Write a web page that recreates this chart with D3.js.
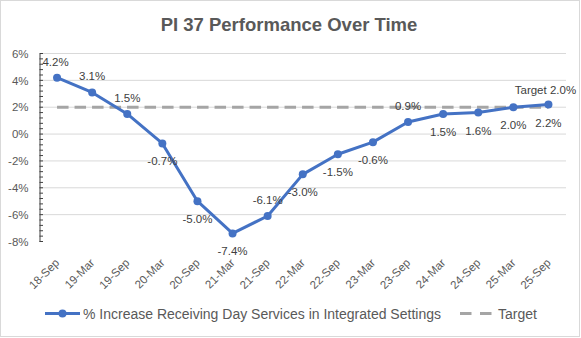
<!DOCTYPE html>
<html>
<head>
<meta charset="utf-8">
<script src="https://cdn.jsdelivr.net/npm/d3@7"></script>
<style>
  body { margin: 0; background: #fff; }
  svg { display: block; font-family: "Liberation Sans", Arial, sans-serif; }
</style>
</head>
<body>
<svg id="chart"></svg>
<script>
// half-yearly periods and the PI 37 figures (percent)
const categories = ["18-Sep", "19-Mar", "19-Sep", "20-Mar", "20-Sep", "21-Mar", "21-Sep", "22-Mar",
  "22-Sep", "23-Mar", "23-Sep", "24-Mar", "24-Sep", "25-Mar", "25-Sep"];
const increase = [4.2, 3.1, 1.5, -0.7, -5.0, -7.4, -6.1, -3.0, -1.5, -0.6, 0.9, 1.5, 1.6, 2.0, 2.2];
const target = [2, 2, 2, 2, 2, 2, 2, 2, 2, 2, 2, 2, 2, 2, 2];
const yTicks = [-8, -6, -4, -2, 0, 2, 4, 6];

// which side of the point each value label sits on
const labelSide = ["up", "up", "up", "down", "down", "down", "up", "down",
  "down", "down", "up", "down", "down", "down", "down"];

const width = 581, height = 338;
const margin = { top: 53.5, right: 15, bottom: 96.5, left: 39.5 };

const svg = d3.select("#chart").attr("width", width).attr("height", height);

svg.append("rect")
  .attr("x", 0.5).attr("y", 0.5)
  .attr("width", width - 2).attr("height", height - 2)
  .attr("fill", "#fff").attr("stroke", "#d9d9d9");

svg.append("text")
  .attr("x", 289).attr("y", 31)
  .attr("text-anchor", "middle")
  .attr("font-size", 18.5).attr("font-weight", "bold")
  .attr("fill", "#595959")
  .text("PI 37 Performance Over Time");

const x = d3.scaleBand().domain(categories)
  .range([margin.left, width - margin.right]);
const y = d3.scaleLinear().domain([-8, 6])
  .range([height - margin.bottom, margin.top]);
const cx = d => x(d) + x.bandwidth() / 2;

// gridlines
svg.append("g")
  .selectAll("line").data(yTicks.filter(t => t !== -8)).join("line")
  .attr("x1", margin.left).attr("x2", width - margin.right)
  .attr("y1", d => y(d)).attr("y2", d => y(d))
  .attr("stroke", "#d9d9d9").attr("stroke-width", 1);

// left axis with inward minor ticks
const yAxis = svg.append("g")
  .attr("transform", `translate(${margin.left},0)`)
  .call(d3.axisLeft(y).tickValues(yTicks).tickSize(0).tickPadding(11)
    .tickFormat(d => d + "%"));
yAxis.select(".domain").attr("stroke", "#404040");
yAxis.selectAll("text").attr("font-size", 11.5).attr("fill", "#595959")
  .attr("font-family", "Liberation Sans, Arial, sans-serif");

const minor = d3.range(-8, 6.01, 0.4);
svg.append("g").selectAll("line").data(minor).join("line")
  .attr("x1", margin.left).attr("x2", margin.left + 3.5)
  .attr("y1", d => y(d)).attr("y2", d => y(d))
  .attr("stroke", "#404040").attr("stroke-width", 1);

// category labels, rotated
svg.append("g").selectAll("text").data(categories).join("text")
  .attr("transform", d => `translate(${cx(d) + 3},${height - margin.bottom + 22}) rotate(-45)`)
  .attr("text-anchor", "end")
  .attr("font-size", 11.5).attr("fill", "#595959")
  .text(d => d);

// target line
const line = d3.line().x((d, i) => cx(categories[i])).y(d => y(d));
svg.append("path")
  .attr("d", line(target))
  .attr("fill", "none").attr("stroke", "#a5a5a5")
  .attr("stroke-width", 3).attr("stroke-dasharray", "11.5,6");

// main series
svg.append("path")
  .attr("d", line(increase))
  .attr("fill", "none").attr("stroke", "#4472c4")
  .attr("stroke-width", 3).attr("stroke-linejoin", "round");

svg.append("g").selectAll("circle").data(increase).join("circle")
  .attr("cx", (d, i) => cx(categories[i]))
  .attr("cy", d => y(d))
  .attr("r", 4)
  .attr("fill", "#4472c4");

// value labels
svg.append("g").selectAll("text").data(increase).join("text")
  .attr("x", (d, i) => cx(categories[i]) - (i === 0 ? 1.5 : 0))
  .attr("y", (d, i) => y(d) + (labelSide[i] === "up" ? -12 : 22))
  .attr("text-anchor", "middle")
  .attr("font-size", 11.5).attr("fill", "#404040")
  .text(d => d.toFixed(1) + "%");

const last = target.length - 1;
svg.append("text")
  .attr("x", cx(categories[last]) - 3)
  .attr("y", y(target[last]) - 13)
  .attr("text-anchor", "middle")
  .attr("font-size", 11.5).attr("fill", "#404040")
  .text("Target " + target[last].toFixed(1) + "%");

// legend
const legY = 313.5;
const leg = svg.append("g");
leg.append("line").attr("x1", 45).attr("x2", 80).attr("y1", legY).attr("y2", legY)
  .attr("stroke", "#4472c4").attr("stroke-width", 3);
leg.append("circle").attr("cx", 62.5).attr("cy", legY).attr("r", 4).attr("fill", "#4472c4");
leg.append("text").attr("x", 83).attr("y", legY + 5)
  .attr("font-size", 14).attr("fill", "#595959")
  .text("% Increase Receiving Day Services in Integrated Settings");
leg.append("line").attr("x1", 460).attr("x2", 492).attr("y1", legY).attr("y2", legY)
  .attr("stroke", "#a5a5a5").attr("stroke-width", 3).attr("stroke-dasharray", "11.5,8.5");
leg.append("text").attr("x", 498).attr("y", legY + 5)
  .attr("font-size", 14).attr("fill", "#595959")
  .text("Target");
</script>
</body>
</html>
